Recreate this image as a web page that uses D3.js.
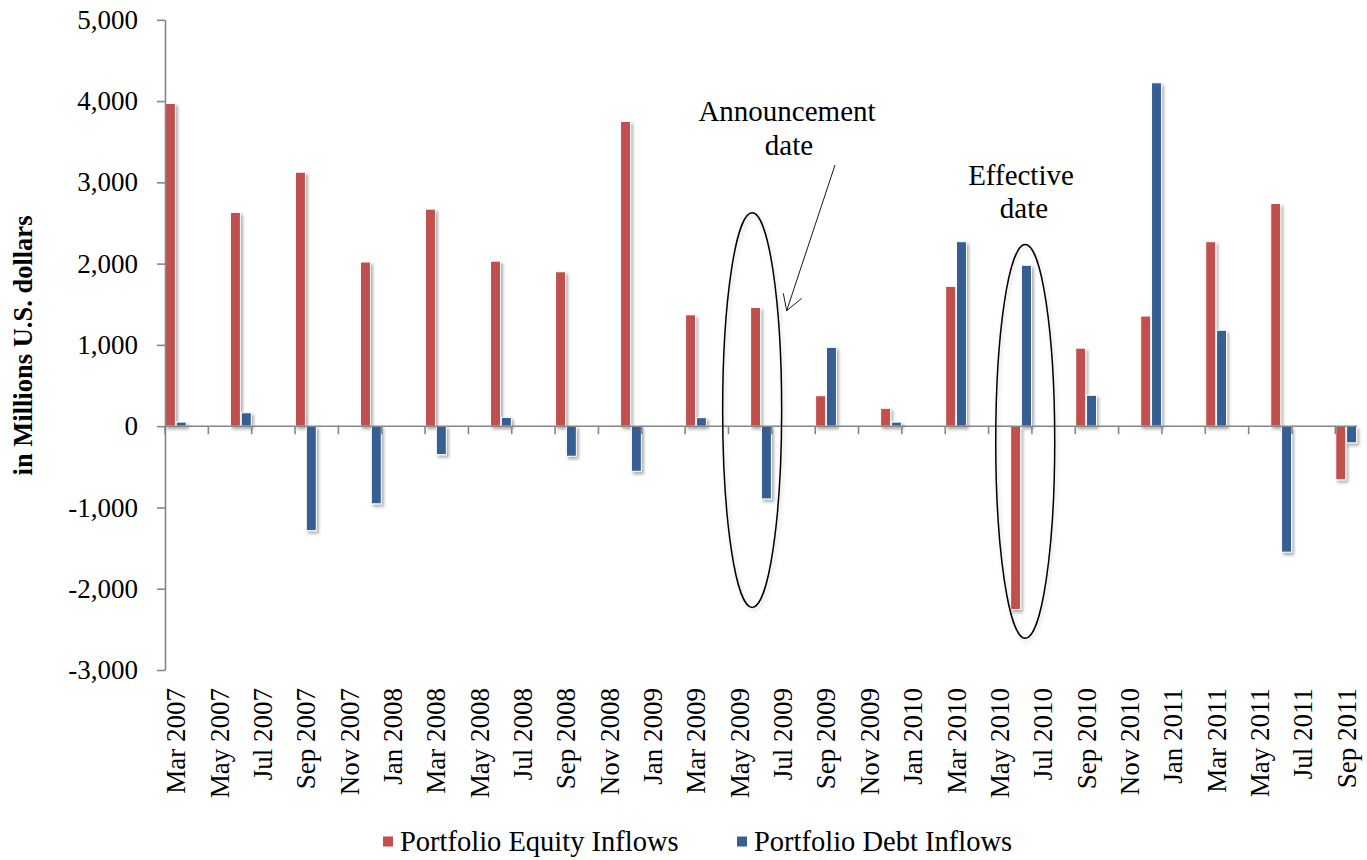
<!DOCTYPE html>
<html>
<head>
<meta charset="utf-8">
<script src="https://cdn.jsdelivr.net/npm/d3@7"></script>
<style>
  html, body { margin: 0; padding: 0; background: #fff; }
  svg { display: block; }
</style>
</head>
<body>
<svg id="chart" width="1367" height="860"></svg>
<script>
// ---------- data ----------
const quarters = ["Mar 2007","Jun 2007","Sep 2007","Dec 2007","Mar 2008","Jun 2008","Sep 2008","Dec 2008",
  "Mar 2009","Jun 2009","Sep 2009","Dec 2009","Mar 2010","Jun 2010","Sep 2010","Dec 2010",
  "Mar 2011","Jun 2011","Sep 2011"];
const equityInflows = [3970, 2630, 3125, 2020, 2670, 2030, 1900, 3750,
  1370, 1460, 375, 220, 1720, -2255, 960, 1355, 2270, 2740, -660];
const debtInflows = [50, 165, -1285, -955, -350, 108, -370, -555,
  105, -895, 970, 50, 2270, 1980, 380, 4225, 1180, -1550, -205];
const seriesNames = ["Portfolio Equity Inflows", "Portfolio Debt Inflows"];
const seriesColors = ["#C0504D", "#365F92"];
const yTicks = [-3000, -2000, -1000, 0, 1000, 2000, 3000, 4000, 5000];
const tickLabels = ["Mar 2007","May 2007","Jul 2007","Sep 2007","Nov 2007","Jan 2008","Mar 2008","May 2008",
  "Jul 2008","Sep 2008","Nov 2008","Jan 2009","Mar 2009","May 2009","Jul 2009","Sep 2009","Nov 2009",
  "Jan 2010","Mar 2010","May 2010","Jul 2010","Sep 2010","Nov 2010","Jan 2011","Mar 2011","May 2011",
  "Jul 2011","Sep 2011"];
const yTitle = "in Millions U.S. dollars";
const annotations = [
  { month: "Jun 2009", top: 2625, bottom: -2230, lines: ["Announcement", "date"] },
  { month: "Jun 2010", top: 2235, bottom: -2610, lines: ["Effective", "date"] }
];

// ---------- layout ----------
const svg = d3.select("#chart");
const FONT = "'Liberation Serif', 'Times New Roman', serif";
const plotLeft = 165, plotRight = 1357, plotTop = 19.8, plotBottom = 670;

const fmtMonth = d3.timeFormat("%b %Y");
const months = d3.timeMonth.range(new Date(2007, 2, 1), new Date(2011, 9, 1)).map(fmtMonth);

const x = d3.scaleBand().domain(months).range([plotLeft, plotRight]).padding(0);
const xs = d3.scaleBand().domain([0, 1]).range([0, x.bandwidth()]).paddingInner(0.08).paddingOuter(0.04);
const y = d3.scaleLinear().domain([-3000, 5000]).range([plotBottom, plotTop]);

// shadow filters
const defs = svg.append("defs");
const f = defs.append("filter").attr("id", "shadow").attr("x", "-50%").attr("y", "-10%").attr("width", "200%").attr("height", "120%");
f.append("feDropShadow").attr("dx", 2).attr("dy", 2.5).attr("stdDeviation", 1.6)
  .attr("flood-color", "#000").attr("flood-opacity", 0.32);
const f2 = defs.append("filter").attr("id", "shadow2").attr("x", "-50%").attr("y", "-10%").attr("width", "200%").attr("height", "120%");
f2.append("feDropShadow").attr("dx", 1.5).attr("dy", 2.5).attr("stdDeviation", 2)
  .attr("flood-color", "#000").attr("flood-opacity", 0.18);

// ---------- bars ----------
const series = [equityInflows, debtInflows];
series.forEach((vals, si) => {
  svg.append("g").attr("filter", "url(#shadow)")
    .selectAll("rect").data(vals).join("rect")
    .attr("x", (d, i) => x(quarters[i]) + xs(si))
    .attr("width", xs.bandwidth())
    .attr("y", d => y(Math.max(0, d)))
    .attr("height", d => Math.abs(y(d) - y(0)))
    .attr("fill", seriesColors[si])
    .attr("stroke", "#fff")
    .attr("stroke-width", 1);
});

// ---------- axes ----------
const axisColor = "#868686";
const yAxis = svg.append("g").attr("transform", `translate(${plotLeft},0)`)
  .call(d3.axisLeft(y).tickValues(yTicks).tickSize(8).tickSizeOuter(0).tickPadding(19)
    .tickFormat(d => d3.format(",")(d).replace("\u2212", "-")));
yAxis.select(".domain").attr("stroke", axisColor).attr("stroke-width", 1.6);
yAxis.selectAll(".tick line").attr("stroke", axisColor).attr("stroke-width", 1.6);
yAxis.selectAll(".tick text").attr("font-family", FONT).attr("font-size", 27).attr("fill", "#000");

// zero line + ticks
const xAxis = svg.append("g");
xAxis.append("line").attr("x1", plotLeft).attr("x2", plotRight).attr("y1", y(0)).attr("y2", y(0))
  .attr("stroke", axisColor).attr("stroke-width", 1.6);
xAxis.selectAll("line.tk").data(tickLabels).join("line").attr("class", "tk")
  .attr("x1", d => x(d)).attr("x2", d => x(d))
  .attr("y1", y(0)).attr("y2", y(0) + 8)
  .attr("stroke", axisColor).attr("stroke-width", 1.6);

// x labels (rotated)
svg.append("g").selectAll("text").data(tickLabels).join("text")
  .attr("transform", d => `translate(${x(d) + x.bandwidth() / 2},688) rotate(-90)`)
  .attr("text-anchor", "end").attr("dy", "0.35em")
  .attr("font-family", FONT).attr("font-size", 27).attr("fill", "#000")
  .text(d => d);

// y title
svg.append("text").attr("transform", "translate(32,345.5) rotate(-90)")
  .attr("text-anchor", "middle").attr("font-family", FONT).attr("font-weight", "bold")
  .attr("font-size", 26.5).attr("fill", "#000").text(yTitle);

// ---------- annotations ----------
annotations.forEach((a, i) => {
  const cx = i === 0 ? x(a.month) + 2 : x(a.month) + 15;
  const cy = (y(a.top) + y(a.bottom)) / 2;
  const ry = (y(a.bottom) - y(a.top)) / 2;
  svg.append("ellipse").attr("cx", cx).attr("cy", cy).attr("rx", 29.5).attr("ry", ry)
    .attr("fill", "none").attr("stroke", "#000").attr("stroke-width", 1.5)
    .attr("filter", "url(#shadow2)");
});

const ann1 = svg.append("text").attr("font-family", FONT).attr("font-size", 29).attr("text-anchor", "middle").attr("fill", "#000");
ann1.append("tspan").attr("x", 787).attr("y", 121).text(annotations[0].lines[0]);
ann1.append("tspan").attr("x", 789).attr("y", 155).text(annotations[0].lines[1]);
const ann2 = svg.append("text").attr("font-family", FONT).attr("font-size", 29).attr("text-anchor", "middle").attr("fill", "#000");
ann2.append("tspan").attr("x", 1021).attr("y", 185).text(annotations[1].lines[0]);
ann2.append("tspan").attr("x", 1024).attr("y", 218).text(annotations[1].lines[1]);

// arrow
const ax0 = 835, ay0 = 165, ax1 = 786.7, ay1 = 310.7;
svg.append("line").attr("x1", ax0).attr("y1", ay0).attr("x2", ax1).attr("y2", ay1)
  .attr("stroke", "#000").attr("stroke-width", 0.9);
svg.append("path").attr("d", `M783.3,293.3 L${ax1},${ay1} L801.7,298.3`)
  .attr("fill", "none").attr("stroke", "#000").attr("stroke-width", 0.9);

// ---------- legend ----------
const legendX = [383, 737];
const lg = svg.append("g");
seriesNames.forEach((n, i) => {
  lg.append("rect").attr("x", legendX[i]).attr("y", 836.5).attr("width", 10).attr("height", 10)
    .attr("fill", seriesColors[i]);
  lg.append("text").attr("x", legendX[i] + 17).attr("y", 851)
    .attr("font-family", FONT).attr("font-size", 28.5).attr("fill", "#000").text(n);
});
</script>
</body>
</html>
